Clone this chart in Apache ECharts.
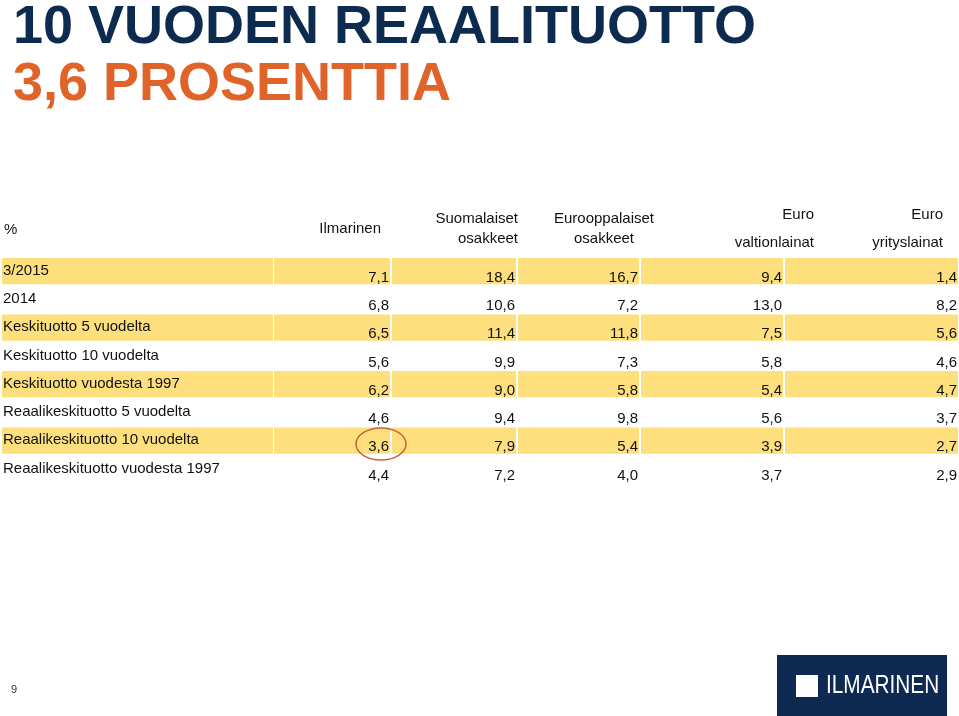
<!DOCTYPE html>
<html><head><meta charset="utf-8">
<script src="https://cdn.jsdelivr.net/npm/echarts@6/dist/echarts.min.js"></script>
<style>html,body{margin:0;padding:0;background:#fff}#c{width:959px;height:716px}</style>
</head><body><div id="c"></div>
<script>
const rows = ['3/2015','2014','Keskituotto 5 vuodelta','Keskituotto 10 vuodelta','Keskituotto vuodesta 1997','Reaalikeskituotto 5 vuodelta','Reaalikeskituotto 10 vuodelta','Reaalikeskituotto vuodesta 1997'];
const columns = ['Ilmarinen','Suomalaiset\nosakkeet','Eurooppalaiset\nosakkeet','Euro\n\nvaltionlainat','Euro\n\nyrityslainat'];
const ilmarinen = [7.1,6.8,6.5,5.6,6.2,4.6,3.6,4.4];
const suomalaiset = [18.4,10.6,11.4,9.9,9.0,9.4,7.9,7.2];
const eurooppalaiset = [16.7,7.2,11.8,7.3,5.8,9.8,5.4,4.0];
const valtionlainat = [9.4,13.0,7.5,5.8,5.4,5.6,3.9,3.7];
const yrityslainat = [1.4,8.2,5.6,4.6,4.7,3.7,2.7,2.9];
const series = [ilmarinen,suomalaiset,eurooppalaiset,valtionlainat,yrityslainat];

const colEdges = [[2,273],[274,390],[392,516],[518,639],[641,783],[785,958]];
const fmt = v => v.toFixed(1).replace('.',',');
const FONT = 'Arial, "Liberation Sans", sans-serif';

const data = rows.map((r,i)=>[i]);
const chart = echarts.init(document.getElementById('c'));
chart.setOption({
  animation:false,
  textStyle:{fontFamily:FONT},
  grid:{left:0,right:0,top:257.5,height:226},
  xAxis:{type:'value',min:0,max:959,show:false},
  yAxis:{type:'category',data:rows,inverse:true,show:false},
  series:[{
    type:'custom',
    data:data,
    z:1,
    renderItem:(params,api)=>{
      const i = api.value(0);
      const c = api.coord([0,i]);
      const h = api.size([0,1])[1];
      const y = c[1];
      const kids = [];
      if(i%2===0){
        colEdges.forEach(e=>{
          const x0=api.coord([e[0],i])[0], x1=api.coord([e[1],i])[0];
          kids.push({type:'rect',shape:{x:x0,y:y-h/2+0.5,width:x1-x0,height:h-2},style:{fill:'#fddf7d'}});
        });
      }
      kids.push({type:'text',x:api.coord([3,i])[0],y:y-1,style:{text:rows[i],fontSize:15,fontFamily:FONT,fill:'#111',textVerticalAlign:'middle'}});
      series.forEach((s,k)=>{
        const xr = api.coord([colEdges[k+1][1]-1,i])[0];
        kids.push({type:'text',x:xr,y:y+6,style:{text:fmt(s[i]),fontSize:15,fontFamily:FONT,fill:'#111',textAlign:'right',textVerticalAlign:'middle'}});
      });
      return {type:'group',children:kids};
    }
  }],
  graphic:[
    {type:'text',left:13,top:1,style:{text:'10 VUODEN REAALITUOTTO',fontSize:54,fontWeight:'bold',fontFamily:FONT,fill:'#0d2a4f'}},
    {type:'text',left:13,top:58,style:{text:'3,6 PROSENTTIA',fontSize:54,fontWeight:'bold',fontFamily:FONT,fill:'#e0632a'}},
    {type:'text',left:4,top:222,style:{text:'%',fontSize:15,fontFamily:FONT,fill:'#111'}},
    {type:'text',x:381,y:229,style:{text:columns[0],fontSize:15,fontFamily:FONT,fill:'#111',textAlign:'right',textVerticalAlign:'middle'}},
    {type:'text',x:518,y:229,style:{text:columns[1],fontSize:15,fontFamily:FONT,fill:'#111',textAlign:'right',textVerticalAlign:'middle',lineHeight:20}},
    {type:'text',x:604,y:229,style:{text:columns[2],fontSize:15,fontFamily:FONT,fill:'#111',textAlign:'center',textVerticalAlign:'middle',lineHeight:20}},
    {type:'text',x:814,y:229,style:{text:columns[3],fontSize:15,fontFamily:FONT,fill:'#111',textAlign:'right',textVerticalAlign:'middle',lineHeight:14}},
    {type:'text',x:943,y:229,style:{text:columns[4],fontSize:15,fontFamily:FONT,fill:'#111',textAlign:'right',textVerticalAlign:'middle',lineHeight:14}},
    {type:'ellipse',z:100,shape:{cx:381,cy:444,rx:25,ry:16},style:{fill:'none',stroke:'#c8643a',lineWidth:1.5}},
    {type:'text',left:11,top:684,style:{text:'9',fontSize:11,fontFamily:FONT,fill:'#0d2a4f'}},
    {type:'rect',shape:{x:777,y:655,width:170,height:61},style:{fill:'#0e2a52'}},
    {type:'rect',shape:{x:796,y:675,width:22,height:22},style:{fill:'#fff'}},
    {type:'text',x:826,y:686,style:{text:'ILMARINEN',fontSize:26,fontFamily:FONT,fill:'#fff',textVerticalAlign:'middle'},scaleX:0.8}
  ]
});
</script></body></html>
